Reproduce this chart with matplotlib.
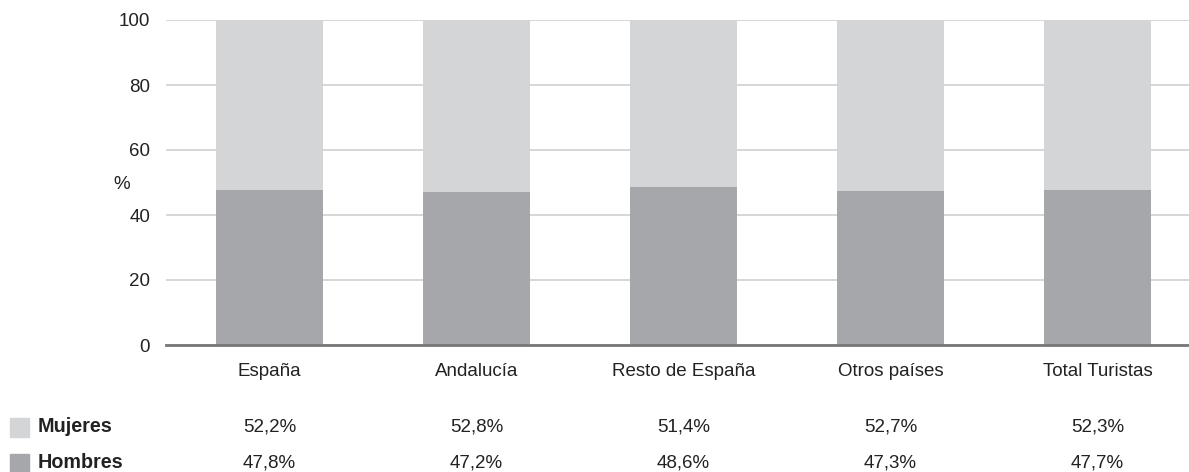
import matplotlib.pyplot as plt
import numpy as np

categories = ['España', 'Andalucía', 'Resto de España', 'Otros países', 'Total Turistas']
mujeres = [52.2, 52.8, 51.4, 52.7, 52.3]
hombres = [47.8, 47.2, 48.6, 47.3, 47.7]
mujeres_lbl = ['52,2%', '52,8%', '51,4%', '52,7%', '52,3%']
hombres_lbl = ['47,8%', '47,2%', '48,6%', '47,3%', '47,7%']
yticks = [0, 20, 40, 60, 80, 100]

c_muj = '#d4d5d7'
c_hom = '#a6a7aa'
txt = '#222222'
fs = 13.5

plt.rcParams['font.family'] = ['Liberation Sans Narrow', 'Liberation Sans', 'DejaVu Sans']

W, H = 1189, 472
fig = plt.figure(figsize=(W / 100, H / 100), dpi=100)

# axes in pixel terms: left 166, right ~1201 (past edge), top 20, bottom 345
left, right, top, bottom = 166, 1201, 20, 345
ax = fig.add_axes([left / W, 1 - bottom / H, (right - left) / W, (bottom - top) / H])

x = np.arange(len(categories))
ax.bar(x, hombres, width=0.517, color=c_hom, zorder=2)
ax.bar(x, mujeres, width=0.517, bottom=hombres, color=c_muj, zorder=2)

ax.set_xlim(-0.5, len(categories) - 0.5)
ax.set_ylim(0, 100)
ax.set_yticks(yticks)
ax.yaxis.grid(True, color='#d0d0d0', linewidth=1.2, zorder=0)
ax.tick_params(axis='y', length=0, pad=11.5, labelsize=fs, colors=txt)
ax.tick_params(axis='x', length=0, pad=13, labelsize=fs, colors=txt)
ax.set_xticks(x)
ax.set_xticklabels(categories)
for s in ['top', 'right', 'left']:
    ax.spines[s].set_visible(False)
ax.spines['bottom'].set_color('#777777')
ax.spines['bottom'].set_linewidth(2)
ax.spines['bottom'].set_zorder(3)

fig.text(122 / W, 1 - 184 / H, '%', ha='center', va='center', fontsize=fs, color=txt)

# table rows under the chart
rows = [('Mujeres', c_muj, mujeres_lbl, 427), ('Hombres', c_hom, hombres_lbl, 463)]
for name, col, labels, ypx in rows:
    yf = 1 - ypx / H
    fig.patches.append(plt.Rectangle((10 / W, yf - 9.5 / H), 19 / W, 19 / H,
                                     transform=fig.transFigure, color=col))
    fig.text(38 / W, yf, name, ha='left', va='center', fontsize=14.2,
             fontweight='bold', color=txt)
    for i, lab in enumerate(labels):
        xd = ax.transData.transform((x[i], 0))[0]
        fig.text(xd / W, yf, lab, ha='center', va='center', fontsize=fs, color=txt)

fig.savefig('out.png', dpi=100)
